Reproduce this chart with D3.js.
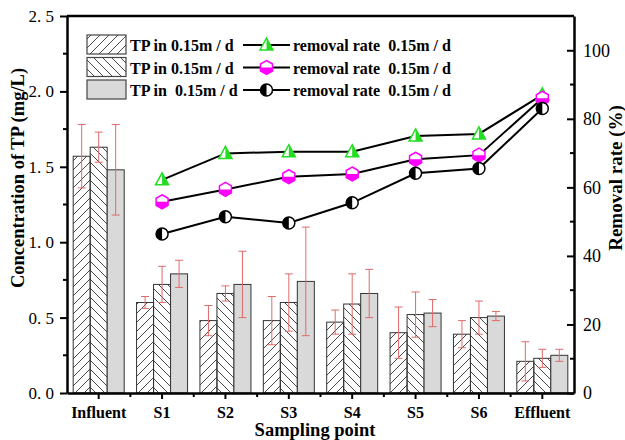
<!DOCTYPE html>
<html>
<head>
<meta charset="utf-8">
<script src="https://cdn.jsdelivr.net/npm/d3@7"></script>
<style>
  body { margin: 0; background: #fff; }
  svg { display: block; }
  svg text { font-family: "Times New Roman", "Liberation Serif", "DejaVu Serif", serif; white-space: pre; }
</style>
</head>
<body>
<svg id="chart"></svg>
<script>
const WIDTH = 625;
const HEIGHT = 440;
const MARGINS = { left: 67, top: 16, right: 51, bottom: 47 };

// sampling points
const categories = ["Influent", "S1", "S2", "S3", "S4", "S5", "S6", "Effluent"];

// TP concentration (mg/L) and error (+/-)
const tp1 = [1.57, 0.6, 0.48, 0.48, 0.47, 0.4, 0.39, 0.21];
const tp1Err = [0.21, 0.04, 0.1, 0.16, 0.08, 0.17, 0.09, 0.13];
const tp2 = [1.63, 0.72, 0.66, 0.6, 0.59, 0.52, 0.5, 0.23];
const tp2Err = [0.1, 0.12, 0.05, 0.19, 0.2, 0.15, 0.11, 0.06];
const tp3 = [1.48, 0.79, 0.72, 0.74, 0.66, 0.53, 0.51, 0.25];
const tp3Err = [0.3, 0.09, 0.22, 0.36, 0.16, 0.09, 0.03, 0.04];

// removal rate (%), S1..Effluent
const rateCategories = ["S1", "S2", "S3", "S4", "S5", "S6", "Effluent"];
const rate1 = [62.2, 69.9, 70.4, 70.4, 75.0, 75.6, 87.0];
const rate2 = [55.8, 59.4, 63.1, 63.9, 68.2, 69.4, 86.0];
const rate3 = [46.4, 51.4, 49.6, 55.5, 64.1, 65.5, 83.0];

// axes
const yTicks = [0, 0.5, 1.0, 1.5, 2.0, 2.5];
const yTickLabels = ["0. 0", "0. 5", "1. 0", "1. 5", "2. 0", "2. 5"];
const yMinorTicks = [0.25, 0.75, 1.25, 1.75, 2.25];
const rTicks = [0, 20, 40, 60, 80, 100];
const rMinorTicks = [10, 30, 50, 70, 90, 110];

const barLabels = ["TP in 0.15m / d", "TP in 0.15m / d", "TP in  0.15m / d"];
const rateLabels = ["removal rate  0.15m / d", "removal rate  0.15m / d", "removal rate  0.15m / d"];

const GREEN = "#22dd22";
const MAGENTA = "#ff00ff";
const ERR = "#e06a6a";

const svg = d3.select("#chart").attr("width", WIDTH).attr("height", HEIGHT);

const defs = svg.append("defs");
function hatch(id, d) {
  defs
    .append("pattern")
    .attr("id", id)
    .attr("patternUnits", "userSpaceOnUse")
    .attr("width", 9)
    .attr("height", 9)
    .append("path")
    .attr("d", d)
    .attr("stroke", "#333")
    .attr("stroke-width", 0.9)
    .attr("fill", "none");
}
hatch("fwd", "M0,9 L9,0 M-2,2 L2,-2 M7,11 L11,7");
hatch("bwd", "M0,0 L9,9 M-2,7 L2,11 M7,-2 L11,2");

const fills = ["url(#fwd)", "url(#bwd)", "#d9d9d9"];

const xScale = d3
  .scaleBand()
  .domain(categories)
  .range([MARGINS.left, WIDTH - MARGINS.right])
  .padding(0);

const inner = d3.scaleBand().domain([0, 1, 2]).range([-25.5, 25.5]);

const yScale = d3
  .scaleLinear()
  .domain([0, 2.5])
  .range([HEIGHT - MARGINS.bottom, MARGINS.top]);

const rScale = d3
  .scaleLinear()
  .domain([0, 110])
  .range([HEIGHT - MARGINS.bottom, MARGINS.top]);

const cx = (c) => xScale(c) + xScale.bandwidth() / 2;

// ---- bars
const series = [
  { vals: tp1, errs: tp1Err },
  { vals: tp2, errs: tp2Err },
  { vals: tp3, errs: tp3Err },
];

const barsG = svg.append("g").attr("class", "bars");
series.forEach((s, k) => {
  const rows = categories.map((c, i) => ({ c, v: s.vals[i], e: s.errs[i] }));
  barsG
    .append("g")
    .selectAll("rect")
    .data(rows)
    .join("rect")
    .attr("x", (d) => cx(d.c) + inner(k))
    .attr("y", (d) => yScale(d.v))
    .attr("width", inner.bandwidth())
    .attr("height", (d) => yScale(0) - yScale(d.v))
    .attr("fill", fills[k])
    .attr("stroke", "#333")
    .attr("stroke-width", 1);
});

// ---- error bars
const errG = svg.append("g").attr("class", "errors").attr("stroke", ERR).attr("stroke-width", 1);
series.forEach((s, k) => {
  categories.forEach((c, i) => {
    const x = cx(c) + inner(k) + inner.bandwidth() / 2;
    const y1 = yScale(s.vals[i] + s.errs[i]);
    const y2 = yScale(s.vals[i] - s.errs[i]);
    errG.append("line").attr("x1", x).attr("x2", x).attr("y1", y1).attr("y2", y2);
    errG.append("line").attr("x1", x - 4).attr("x2", x + 4).attr("y1", y1).attr("y2", y1);
    errG.append("line").attr("x1", x - 4).attr("x2", x + 4).attr("y1", y2).attr("y2", y2);
  });
});

// ---- markers
function drawMarker(g, type, x, y) {
  const m = g.append("g").attr("transform", `translate(${x},${y})`);
  if (type === 0) {
    m.append("path").attr("d", "M0,-7L6.5,5L-6.5,5Z").attr("fill", "#fff").attr("stroke", GREEN).attr("stroke-width", 1.5);
    m.append("path").attr("d", "M0,-7L6.5,5L0,5Z").attr("fill", GREEN);
  } else if (type === 1) {
    m.append("path").attr("d", "M0,-7L6,-3.5L6,3.5L0,7L-6,3.5L-6,-3.5Z").attr("fill", "#fff").attr("stroke", MAGENTA).attr("stroke-width", 1.5);
    m.append("path").attr("d", "M-6,0L6,0L6,3.5L0,7L-6,3.5Z").attr("fill", MAGENTA);
  } else {
    m.append("circle").attr("r", 6).attr("fill", "#fff").attr("stroke", "#000").attr("stroke-width", 1.5);
    m.append("path").attr("d", "M0,-6A6,6 0 0 0 0,6Z").attr("fill", "#000");
  }
}

const rates = [rate1, rate2, rate3];
const line = d3.line();
const linesG = svg.append("g").attr("class", "rate-lines");
rates.forEach((r) => {
  linesG
    .append("path")
    .attr("d", line(rateCategories.map((c, i) => [cx(c), rScale(r[i])])))
    .attr("fill", "none")
    .attr("stroke", "#000")
    .attr("stroke-width", 2);
});
const markersG = svg.append("g").attr("class", "markers");
rates.forEach((r, k) => {
  rateCategories.forEach((c, i) => drawMarker(markersG, k, cx(c), rScale(r[i])));
});

// ---- axes
const axesG = svg.append("g").attr("class", "axes");
const x0 = MARGINS.left;
const x1 = WIDTH - MARGINS.right;
const yb = HEIGHT - MARGINS.bottom;

const xAxis = d3.axisBottom(xScale).tickSize(6).tickSizeOuter(0).tickPadding(8);
const xg = axesG.append("g").attr("transform", `translate(0,${yb})`).call(xAxis);
xg.selectAll("text").attr("font-size", 16).attr("font-weight", "bold");

// category boundary minor ticks
axesG
  .selectAll(".x-minor")
  .data(categories.slice(1))
  .join("line")
  .attr("x1", (c) => xScale(c))
  .attr("x2", (c) => xScale(c))
  .attr("y1", yb)
  .attr("y2", yb + 4)
  .attr("stroke", "#000")
  .attr("stroke-width", 2);

const yAxis = d3
  .axisLeft(yScale)
  .tickValues(yTicks)
  .tickFormat((d, i) => yTickLabels[i])
  .tickSize(7)
  .tickSizeOuter(0)
  .tickPadding(6);
const yg = axesG.append("g").attr("transform", `translate(${x0},0)`).call(yAxis);
yg.selectAll("text").attr("font-size", 17);

axesG
  .selectAll(".y-minor")
  .data(yMinorTicks)
  .join("line")
  .attr("x1", x0 - 4)
  .attr("x2", x0)
  .attr("y1", (d) => yScale(d))
  .attr("y2", (d) => yScale(d))
  .attr("stroke", "#000")
  .attr("stroke-width", 2);

const rAxis = d3.axisRight(rScale).tickValues(rTicks).tickSizeInner(-7).tickSizeOuter(0).tickPadding(9);
const rg = axesG.append("g").attr("transform", `translate(${x1},0)`).call(rAxis);
rg.selectAll("text").attr("font-size", 18);

axesG
  .selectAll(".r-minor")
  .data(rMinorTicks)
  .join("line")
  .attr("x1", x1 - 4)
  .attr("x2", x1)
  .attr("y1", (d) => rScale(d))
  .attr("y2", (d) => rScale(d))
  .attr("stroke", "#000")
  .attr("stroke-width", 2);

axesG.selectAll(".domain").attr("stroke-width", 2.5);
axesG.selectAll(".tick line").attr("stroke-width", 2);

// top frame
axesG
  .append("line")
  .attr("x1", x0)
  .attr("x2", x1)
  .attr("y1", MARGINS.top)
  .attr("y2", MARGINS.top)
  .attr("stroke", "#000")
  .attr("stroke-width", 2.5);

// ---- titles
svg
  .append("text")
  .attr("transform", "translate(23.5,178) rotate(-90)")
  .attr("text-anchor", "middle")
  .attr("font-size", 18.5)
  .attr("font-weight", "bold")
  .text("Concentration of TP (mg/L)");

svg
  .append("text")
  .attr("transform", "translate(622,178) rotate(-90)")
  .attr("text-anchor", "middle")
  .attr("font-size", 19)
  .attr("font-weight", "bold")
  .text("Removal rate (%)");

svg
  .append("text")
  .attr("x", 315)
  .attr("y", 436)
  .attr("text-anchor", "middle")
  .attr("font-size", 18.5)
  .attr("font-weight", "bold")
  .text("Sampling point");

// ---- legend
const legendG = svg.append("g").attr("class", "legend").attr("font-size", 16).attr("font-weight", "bold");
[0, 1, 2].forEach((k) => {
  const top = 35 + k * 22.5;
  legendG
    .append("rect")
    .attr("x", 87)
    .attr("y", top)
    .attr("width", 39)
    .attr("height", 19)
    .attr("fill", fills[k])
    .attr("stroke", "#444")
    .attr("stroke-width", 1.2);
  legendG.append("text").attr("x", 130).attr("y", top + 16).text(barLabels[k]);

  const my = top + 10;
  legendG
    .append("line")
    .attr("x1", 243)
    .attr("x2", 290)
    .attr("y1", my)
    .attr("y2", my)
    .attr("stroke", "#000")
    .attr("stroke-width", 2);
  drawMarker(legendG, k, 266.5, my);
  legendG.append("text").attr("x", 293).attr("y", top + 16).text(rateLabels[k]);
});
</script>
</body>
</html>
